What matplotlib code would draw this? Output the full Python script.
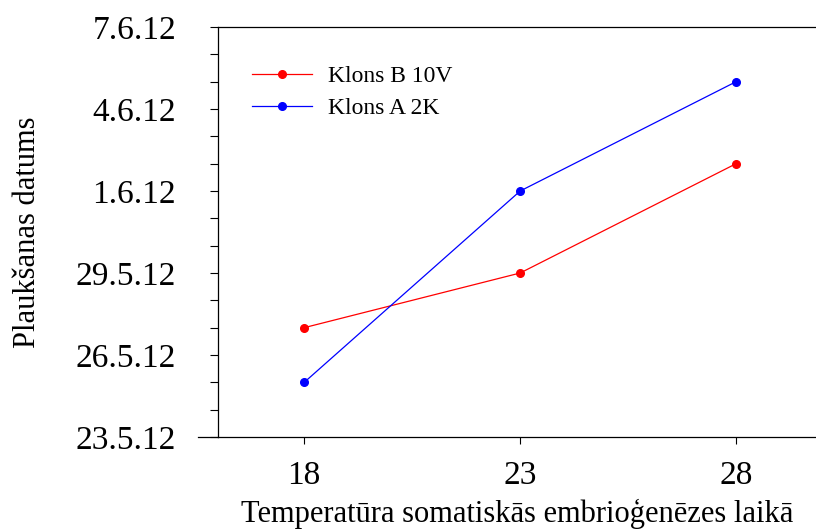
import numpy as np
import matplotlib
matplotlib.use('Agg')
import matplotlib.pyplot as plt
import matplotlib.dates as mdates
from matplotlib.ticker import FuncFormatter

plt.rcParams['font.family'] = ['Liberation Serif', 'DejaVu Serif']

# dati
temperatura = [18, 23, 28]
klons_b = np.array(['2012-05-27', '2012-05-29', '2012-06-02'], dtype='datetime64[D]')
klons_a = np.array(['2012-05-25', '2012-06-01', '2012-06-05'], dtype='datetime64[D]')
y_min, y_max = np.datetime64('2012-05-23'), np.datetime64('2012-06-07')
x_ticks = [18, 23, 28]


def datuma_formats(v, pos):
    d = mdates.num2date(v)
    return '{}.{}.{}'.format(d.day, d.month, d.strftime('%y'))


fig = plt.figure(figsize=(8.16, 5.30), dpi=100)
ax = fig.add_axes([0.267, 0.1755, 0.733, 0.7735])

ax.plot(temperatura, klons_b, color='#ff0000', lw=0.9, marker='o', ms=5.5, label='Klons B 10V')
ax.plot(temperatura, klons_a, color='#0000ff', lw=0.9, marker='o', ms=5.5, label='Klons A 2K')

ax.set_xlim(16, 29.85)
ax.set_ylim(y_min, y_max)
ax.set_xticks(x_ticks)

ax.yaxis.set_major_locator(mdates.DayLocator(interval=3))
ax.yaxis.set_minor_locator(mdates.DayLocator())
ax.yaxis.set_major_formatter(FuncFormatter(datuma_formats))

ax.tick_params(axis='y', which='both', direction='out', length=6, width=0.8, labelsize=24, pad=24)
ax.tick_params(axis='x', direction='out', length=5, width=0.8, labelsize=24, pad=12)

ax.spines['right'].set_visible(False)
for s in ['left', 'top', 'bottom']:
    ax.spines[s].set_linewidth(0.9)
ax.plot([-0.034, 0], [0, 0], color='black', lw=0.9, transform=ax.transAxes, clip_on=False)

ax.set_xlabel('Temperatūra somatiskās embrioģenēzes laikā', fontsize=22)
ax.set_ylabel('Plaukšanas datums', fontsize=22)
ax.xaxis.set_label_coords(0.5, -0.151)
ax.yaxis.set_label_coords(-0.294, 0.5)

ax.legend(loc='upper left', bbox_to_anchor=(0.022, 0.958), frameon=False, fontsize=17,
          handlelength=2.55, handletextpad=0.64, labelspacing=0.45)

fig.savefig('out.png', dpi=100)
